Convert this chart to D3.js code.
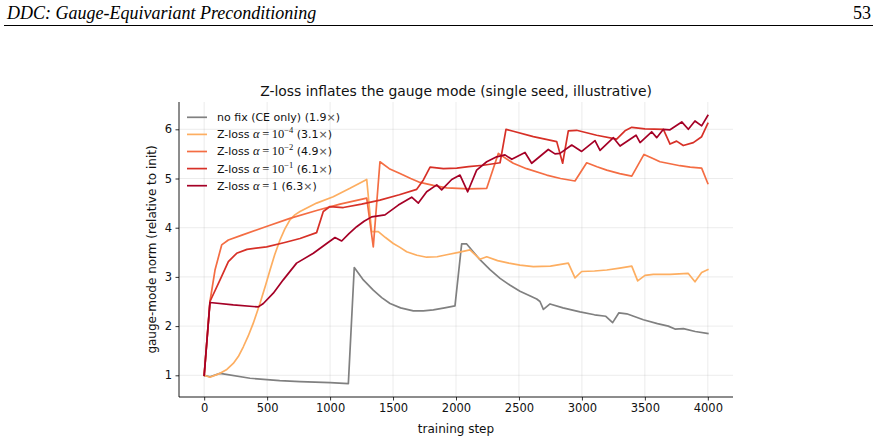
<!DOCTYPE html>
<html>
<head>
<meta charset="utf-8">
<script src="https://cdn.jsdelivr.net/npm/d3@7"></script>
<style>
  body { margin: 0; background: #fff; }
  svg { display: block; }
</style>
</head>
<body>
<svg id="chart" width="877" height="441"></svg>
<script>
// page header
var headerTitle = "DDC: Gauge-Equivariant Preconditioning";
var pageNumber = "53";
var chartTitle = "Z-loss inflates the gauge mode (single seed, illustrative)";
var xLabel = "training step";
var yLabel = "gauge-mode norm (relative to init)";
var xTicks = [0, 500, 1000, 1500, 2000, 2500, 3000, 3500, 4000];
var yTicks = [1, 2, 3, 4, 5, 6];

// series: [training step, norm]
var noFix = [[0,1.0],[46,0.97],[126,1.04],[364,0.94],[600,0.89],[761,0.87],[1000,0.85],[1145,0.83],
  [1192,3.19],[1260,2.95],[1343,2.73],[1410,2.58],[1476,2.46],[1560,2.37],[1661,2.31],[1740,2.31],
  [1820,2.33],[1910,2.37],[1992,2.41],[2045,3.67],[2085,3.67],[2140,3.5],[2190,3.35],[2270,3.15],
  [2350,2.97],[2430,2.83],[2508,2.71],[2590,2.61],[2641,2.55],[2667,2.5],[2694,2.34],[2747,2.45],
  [2850,2.37],[2985,2.29],[3100,2.23],[3190,2.2],[3244,2.07],[3294,2.27],[3356,2.25],[3488,2.13],
  [3600,2.05],[3686,2.0],[3739,1.94],[3806,1.95],[3900,1.89],[4000,1.85]];

var zlossE4 = [[0,1.0],[46,0.96],[126,1.04],[180,1.12],[231,1.24],[271,1.38],[311,1.58],[350,1.8],
  [390,2.06],[443,2.46],[490,2.85],[523,3.14],[560,3.45],[602,3.75],[640,3.97],[681,4.16],[720,4.26],
  [761,4.33],[893,4.5],[1025,4.63],[1158,4.8],[1291,4.98],[1330,3.92],[1383,3.92],[1440,3.8],
  [1502,3.68],[1555,3.6],[1608,3.51],[1690,3.44],[1767,3.4],[1850,3.41],[1926,3.45],[2020,3.5],
  [2111,3.55],[2190,3.36],[2244,3.41],[2330,3.33],[2420,3.28],[2508,3.24],[2614,3.21],[2750,3.22],
  [2892,3.28],[2945,2.98],[2998,3.11],[3100,3.12],[3197,3.14],[3300,3.18],[3396,3.22],[3443,2.92],
  [3501,3.03],[3567,3.05],[3700,3.05],[3845,3.07],[3898,2.9],[3951,3.09],[4000,3.15]];

var zlossE2 = [[0,1.0],[46,2.5],[86,3.14],[139,3.65],[192,3.75],[300,3.85],[500,4.03],[681,4.19],
  [893,4.35],[1079,4.48],[1291,4.6],[1343,3.61],[1396,5.34],[1470,5.2],[1555,5.1],[1640,5.0],
  [1714,4.92],[1820,4.86],[1926,4.81],[2100,4.79],[2244,4.8],[2336,5.51],[2400,5.4],[2455,5.31],
  [2560,5.2],[2720,5.07],[2830,5.0],[2945,4.95],[3038,5.32],[3120,5.24],[3197,5.17],[3300,5.1],
  [3396,5.05],[3493,5.49],[3560,5.41],[3620,5.34],[3700,5.3],[3779,5.26],[3860,5.23],[3951,5.21],
  [4000,4.9]];

var zlossE1 = [[0,1.0],[46,2.5],[126,2.94],[192,3.31],[258,3.48],[340,3.56],[496,3.61],[640,3.7],
  [761,3.78],[893,3.9],[946,4.33],[999,4.43],[1105,4.41],[1250,4.48],[1396,4.56],[1550,4.67],
  [1688,4.78],[1741,4.97],[1794,5.23],[1900,5.2],[2006,5.21],[2100,5.24],[2217,5.27],[2350,5.32],
  [2397,6.0],[2455,5.96],[2614,5.85],[2800,5.75],[2847,5.31],[2892,5.97],[2958,5.98],[3117,5.88],
  [3276,5.8],[3342,5.97],[3396,6.04],[3500,6.01],[3647,6.0],[3700,5.7],[3752,5.76],[3805,5.67],
  [3885,5.73],[3951,5.85],[4000,6.12]];

var zlossE0 = [[0,1.0],[46,2.48],[231,2.43],[430,2.39],[470,2.46],[549,2.67],[628,2.94],[734,3.28],
  [867,3.48],[973,3.68],[1039,3.8],[1092,3.73],[1150,3.88],[1211,4.02],[1270,4.13],[1330,4.22],
  [1436,4.26],[1542,4.46],[1648,4.62],[1701,4.5],[1767,4.73],[1847,4.87],[1886,4.77],[1966,4.98],
  [2032,5.07],[2093,4.73],[2164,5.17],[2244,5.34],[2323,5.44],[2389,5.48],[2443,5.39],[2548,5.53],
  [2601,5.31],[2733,5.59],[2786,5.5],[2826,5.51],[2919,5.68],[2998,5.55],[3104,5.77],[3144,5.57],
  [3250,5.83],[3303,5.66],[3430,5.88],[3462,5.73],[3554,5.95],[3594,5.83],[3647,6.0],[3700,5.99],
  [3793,6.15],[3845,6.0],[3898,6.17],[3951,6.07],[4000,6.28]];

var seriesData = [noFix, zlossE4, zlossE2, zlossE1, zlossE0];
var seriesColors = ["#808080", "#fdae61", "#f46d43", "#d73027", "#a50026"];
// legend: prefix, alpha exponent (null = no alpha), ratio
var legendPrefix = ["no fix (CE only)", "Z-loss ", "Z-loss ", "Z-loss ", "Z-loss "];
var legendExp = [null, "\u22124", "\u22122", "\u22121", ""];
var legendRatio = ["1.9", "3.1", "4.9", "6.1", "6.3"];

(function() {
  var svg = d3.select("#chart");
  var sans = "'DejaVu Sans', sans-serif";
  var serif = "'Liberation Serif', 'DejaVu Serif', serif";

  // header
  svg.append("text").attr("x", 7).attr("y", 19)
    .attr("font-family", serif).attr("font-style", "italic").attr("font-size", 18)
    .attr("fill", "#000").text(headerTitle);
  svg.append("text").attr("x", 871).attr("y", 19).attr("text-anchor", "end")
    .attr("font-family", serif).attr("font-size", 18).attr("fill", "#000").text(pageNumber);
  svg.append("line").attr("x1", 4).attr("x2", 873).attr("y1", 25.5).attr("y2", 25.5)
    .attr("stroke", "#000").attr("stroke-width", 1.1);

  var mLeft = 179, mRight = 733, mTop = 102, mBottom = 397;
  var x = d3.scaleLinear().domain([-200, 4200]).range([mLeft, mRight]);
  var y = d3.scaleLinear().domain([0.559, 6.555]).range([mBottom, mTop]);

  // grid
  var grid = svg.append("g");
  grid.selectAll(".gx").data(xTicks).enter().append("line")
    .attr("x1", function(d) { return x(d); }).attr("x2", function(d) { return x(d); })
    .attr("y1", mTop).attr("y2", mBottom)
    .attr("stroke", "#b0b0b0").attr("stroke-opacity", 0.3).attr("stroke-width", 0.8);
  grid.selectAll(".gy").data(yTicks).enter().append("line")
    .attr("y1", function(d) { return y(d); }).attr("y2", function(d) { return y(d); })
    .attr("x1", mLeft).attr("x2", mRight)
    .attr("stroke", "#b0b0b0").attr("stroke-opacity", 0.3).attr("stroke-width", 0.8);

  // lines
  var line = d3.line().x(function(d) { return x(d[0]); }).y(function(d) { return y(d[1]); });
  svg.append("g").selectAll("path").data(seriesData).enter().append("path")
    .attr("d", line).attr("fill", "none")
    .attr("stroke", function(d, i) { return seriesColors[i]; })
    .attr("stroke-width", 1.7).attr("stroke-linejoin", "round").attr("stroke-linecap", "square");

  // axes
  var xAxis = svg.append("g").attr("transform", "translate(0," + mBottom + ")")
    .call(d3.axisBottom(x).tickValues(xTicks).tickSize(3.5).tickPadding(3.5).tickFormat(d3.format("d")));
  var yAxis = svg.append("g").attr("transform", "translate(" + mLeft + ",0)")
    .call(d3.axisLeft(y).tickValues(yTicks).tickSize(3.5).tickPadding(3.5).tickFormat(d3.format("d")));
  [xAxis, yAxis].forEach(function(a) {
    a.select(".domain").attr("stroke", "#000").attr("stroke-width", 0.9);
    a.selectAll(".tick line").attr("stroke", "#000").attr("stroke-width", 0.8);
    a.selectAll(".tick text").attr("font-family", sans).attr("font-size", 11.5).attr("fill", "#111");
  });
  xAxis.select(".domain").attr("d", "M" + mLeft + ",0H" + mRight);
  yAxis.select(".domain").attr("d", "M0," + mTop + "V" + mBottom);

  // labels
  svg.append("text").attr("x", (mLeft + mRight) / 2).attr("y", 96).attr("text-anchor", "middle")
    .attr("font-family", sans).attr("font-size", 13.9).attr("fill", "#111").text(chartTitle);
  svg.append("text").attr("x", (mLeft + mRight) / 2).attr("y", 433).attr("text-anchor", "middle")
    .attr("font-family", sans).attr("font-size", 12).attr("fill", "#111").text(xLabel);
  svg.append("text").attr("transform", "translate(156," + ((mTop + mBottom) / 2) + ") rotate(-90)")
    .attr("text-anchor", "middle").attr("font-family", sans).attr("font-size", 12)
    .attr("fill", "#111").text(yLabel);

  // legend
  var legend = svg.append("g");
  legendPrefix.forEach(function(pre, i) {
    var ly = 117.3 + i * 17.1;
    legend.append("line").attr("x1", 187).attr("x2", 207).attr("y1", ly).attr("y2", ly)
      .attr("stroke", seriesColors[i]).attr("stroke-width", 1.7);
    var t = legend.append("text").attr("x", 217).attr("y", ly + 3.9)
      .attr("font-family", sans).attr("font-size", 11).attr("fill", "#111");
    t.append("tspan").text(pre);
    var e = legendExp[i];
    if (e !== null) {
      t.append("tspan").attr("font-family", serif).attr("font-style", "italic").attr("font-size", 12.5).text("\u03b1");
      t.append("tspan").attr("font-family", serif).attr("font-size", 12.5).text("\u2009=\u2009" + (e === "" ? "1" : "10"));
      if (e !== "") {
        t.append("tspan").attr("font-family", serif).attr("font-size", 8.5).attr("dy", -5).text(e);
        t.append("tspan").attr("dy", 5).text(" ");
      } else {
        t.append("tspan").text(" ");
      }
    } else {
      t.append("tspan").text(" ");
    }
    t.append("tspan").text("(" + legendRatio[i]);
    t.append("tspan").attr("fill", "#555").text("\u00d7");
    t.append("tspan").text(")");
  });
})();
</script>
</body>
</html>
